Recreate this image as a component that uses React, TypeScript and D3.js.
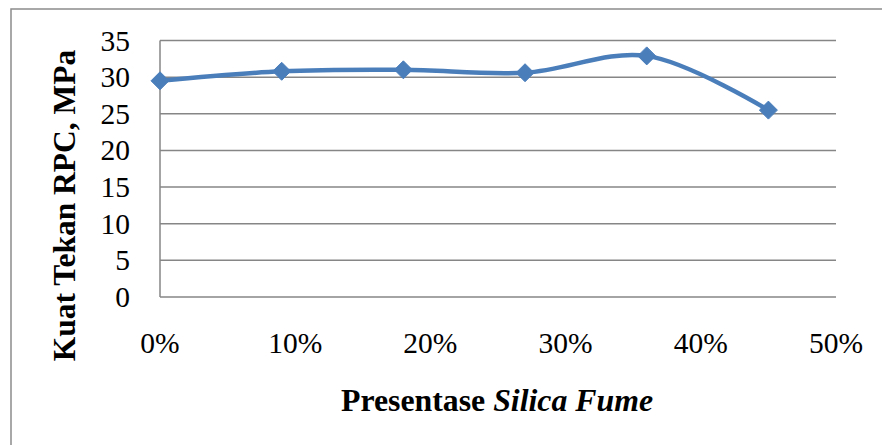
import React from "react";
import * as d3 from "d3";

const xValues = [0, 0.09, 0.18, 0.27, 0.36, 0.45];
const yValues = [29.5, 30.8, 31.0, 30.6, 32.9, 25.5];
const xTicks = [0, 0.1, 0.2, 0.3, 0.4, 0.5];
const yTicks = [0, 5, 10, 15, 20, 25, 30, 35];
const yTitle = "Kuat Tekan RPC, MPa";
const xTitleMain = "Presentase ";
const xTitleItalic = "Silica Fume";

const W = 882;
const H = 445;
const plot = { left: 160, right: 836, top: 40.5, bottom: 297 };

export default function App() {
  const x = d3.scaleLinear().domain([0, 0.5]).range([plot.left, plot.right]);
  const y = d3.scaleLinear().domain([0, 35]).range([plot.bottom, plot.top]);
  const pts: [number, number][] = xValues.map((v, i) => [x(v), y(yValues[i])]);
  const line = d3.line().curve(d3.curveCatmullRom.alpha(0.5))(pts) || "";
  const fmt = d3.format(".0%");
  const font = "'Liberation Serif', 'Times New Roman', serif";
  const grid = "#868686";
  const blue = "#4a7ebb";
  const m = 9;

  return (
    <svg
      width={W}
      height={H}
      style={{ position: "absolute", left: 0, top: 0, background: "#fff" }}
      fontFamily={font}
    >
      <rect x={0} y={0} width={W} height={H} fill="#fff" />
      <rect x={11} y={9} width={W + 20} height={H + 20} fill="none" stroke="#8c8c8c" strokeWidth={1.5} />
      {yTicks.map((t) => (
        <line key={t} x1={plot.left} x2={plot.right} y1={y(t)} y2={y(t)} stroke={grid} strokeWidth={1.5} />
      ))}
      <line x1={plot.left} x2={plot.left} y1={plot.top} y2={plot.bottom} stroke={grid} strokeWidth={1.5} />
      {yTicks.map((t) => (
        <text key={t} x={130} y={y(t) + 10} textAnchor="end" fontSize={29.5} fill="#000">
          {t}
        </text>
      ))}
      {xTicks.map((t) => (
        <text key={t} x={x(t)} y={353} textAnchor="middle" fontSize={29.5} fill="#000">
          {fmt(t)}
        </text>
      ))}
      <path d={line} fill="none" stroke={blue} strokeWidth={4.5} strokeLinejoin="round" />
      {pts.map(([px, py], i) => (
        <path
          key={i}
          d={`M${px},${py - m}L${px + m},${py}L${px},${py + m}L${px - m},${py}Z`}
          fill={blue}
          stroke={blue}
          strokeWidth={1}
        />
      ))}
      <text
        transform={`translate(75, 205.5) rotate(-90)`}
        textAnchor="middle"
        fontSize={31.5}
        fontWeight="bold"
        fill="#000"
      >
        {yTitle}
      </text>
      <text x={497} y={411} textAnchor="middle" fontSize={31.8} fontWeight="bold" fill="#000">
        {xTitleMain}
        <tspan fontStyle="italic">{xTitleItalic}</tspan>
      </text>
    </svg>
  );
}
